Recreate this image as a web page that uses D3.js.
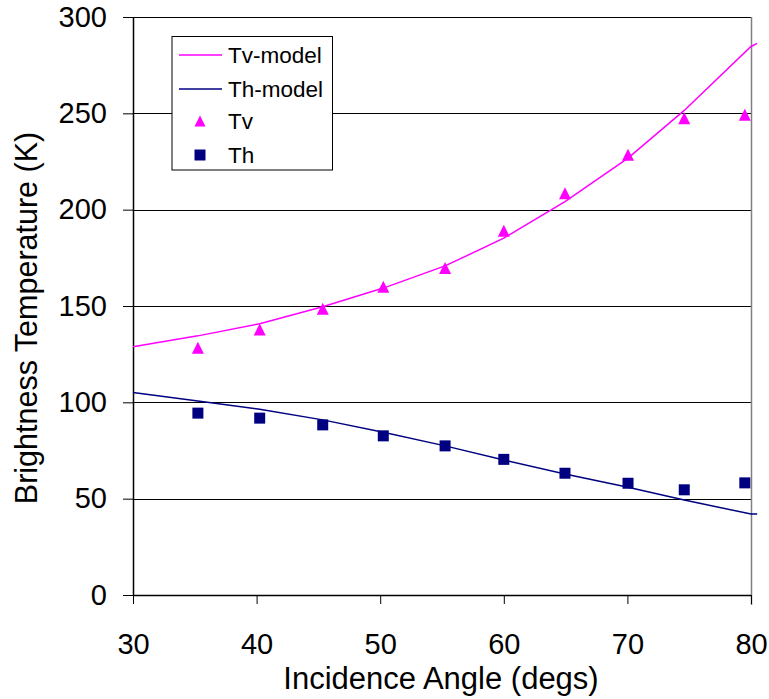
<!DOCTYPE html>
<html><head><meta charset="utf-8">
<script src="https://cdn.jsdelivr.net/npm/d3@7"></script>
<style>body{margin:0;background:#fff;} svg{display:block;font-family:Arial,"Liberation Sans",sans-serif;}</style>
</head><body>
<svg id="c" width="769" height="699"></svg>
<script>
// Data
const pointAngles = [35.25, 40.25, 45.35, 50.25, 55.25, 60.0, 64.95, 70.05, 74.6, 79.5];
const tvValues = [128.3, 137.8, 148.6, 160.0, 169.7, 189.0, 208.5, 228.5, 247.5, 249.3];
const thValues = [94.4, 91.8, 88.3, 82.6, 77.4, 70.4, 63.2, 58.0, 54.6, 58.2];
const modelAngles = [30, 35.25, 40.25, 45.35, 50.25, 55.25, 60.0, 64.95, 70.05, 74.6, 80, 80.5];
const tvModel = [128.8, 134.5, 140.8, 149.6, 159.3, 170.8, 185.2, 204.2, 226.8, 251.5, 284.7, 286.3];
const thModel = [105.1, 100.7, 96.4, 90.9, 84.5, 77.4, 70.1, 62.8, 55.9, 49.3, 42.0, 42.0];
const xTicks = [30, 40, 50, 60, 70, 80];
const yTicks = [0, 50, 100, 150, 200, 250, 300];
const legendLabels = ["Tv-model", "Th-model", "Tv", "Th"];
const magenta = "#FF00FF", navy = "#000080";

const svg = d3.select("#c");
const L = 133, R = 751, T = 17, B = 595;
const x = d3.scaleLinear().domain([30, 80]).range([L, R]);
const y = d3.scaleLinear().domain([0, 300]).range([B, T]);

// gridlines
svg.append("g").selectAll("line").data(yTicks.filter(d => d > 0)).join("line")
  .attr("x1", L).attr("x2", R).attr("y1", d => Math.round(y(d)) + 0.5).attr("y2", d => Math.round(y(d)) + 0.5)
  .attr("stroke", "#000").attr("stroke-width", 1);
// right border
svg.append("line").attr("x1", R + 0.5).attr("x2", R + 0.5).attr("y1", T).attr("y2", B + 10)
  .attr("stroke", "#808080").attr("stroke-width", 1.5);

// axes
const yAxis = d3.axisLeft(y).tickValues(yTicks).tickSize(10).tickPadding(16).tickFormat(d3.format("d"));
const gy = svg.append("g").attr("transform", `translate(${L},0)`).call(yAxis);
gy.select(".domain").attr("stroke", "#000").attr("stroke-width", 1.5).attr("d", `M0.5,${T}V${B}`);
gy.selectAll(".tick line").attr("stroke", "#000");
gy.selectAll(".tick text").attr("font-size", 29).attr("fill", "#000").attr("font-family", "Arial, 'Liberation Sans', sans-serif");

const xAxis = d3.axisBottom(x).tickValues(xTicks).tickSize(9).tickPadding(29).tickFormat(d3.format("d"));
const gx = svg.append("g").attr("transform", `translate(0,${B})`).call(xAxis);
gx.select(".domain").attr("stroke", "#000").attr("stroke-width", 1.5).attr("d", `M${L},0.5H${R}`);
gx.selectAll(".tick line").attr("stroke", "#000");
gx.selectAll(".tick text").attr("font-size", 29).attr("fill", "#000").attr("font-family", "Arial, 'Liberation Sans', sans-serif");

// titles
svg.append("text").attr("x", 441).attr("y", 689).attr("text-anchor", "middle")
  .attr("font-size", 31).text("Incidence Angle (degs)");
svg.append("text").attr("transform", "translate(37,318) rotate(-90)").attr("text-anchor", "middle")
  .attr("font-size", 30.5).text("Brightness Temperature (K)");

// model lines
const line = d3.line();
svg.append("path").attr("d", line(modelAngles.map((a, i) => [x(a), y(tvModel[i])])))
  .attr("fill", "none").attr("stroke", magenta).attr("stroke-width", 1.5);
svg.append("path").attr("d", line(modelAngles.map((a, i) => [x(a), y(thModel[i])])))
  .attr("fill", "none").attr("stroke", navy).attr("stroke-width", 1.5);

// markers
const tri = (cx, cy, s) => `M${cx},${cy - s / 2}L${cx + s / 2},${cy + s / 2}L${cx - s / 2},${cy + s / 2}Z`;
svg.append("g").selectAll("path").data(pointAngles).join("path")
  .attr("d", (a, i) => tri(x(a), y(tvValues[i]), 12)).attr("fill", magenta);
svg.append("g").selectAll("rect").data(pointAngles).join("rect")
  .attr("x", (a) => x(a) - 5.5).attr("y", (a, i) => y(thValues[i]) - 5.5)
  .attr("width", 11).attr("height", 11).attr("fill", navy);

// legend
const lg = svg.append("g");
lg.append("rect").attr("x", 172).attr("y", 36.5).attr("width", 160.5).attr("height", 133.5)
  .attr("fill", "#fff").attr("stroke", "#000").attr("stroke-width", 1);
const rows = [55, 89, 121, 155];
legendLabels.forEach((lab, i) => {
  const ry = rows[i];
  if (i === 0 || i === 1) {
    lg.append("line").attr("x1", 179).attr("x2", 222).attr("y1", ry).attr("y2", ry)
      .attr("stroke", i === 0 ? magenta : navy).attr("stroke-width", 1.5);
  } else if (i === 2) {
    lg.append("path").attr("d", tri(200, ry, 11)).attr("fill", magenta);
  } else {
    lg.append("rect").attr("x", 194.5).attr("y", ry - 5.5).attr("width", 11).attr("height", 11).attr("fill", navy);
  }
  lg.append("text").attr("x", 228).attr("y", ry + 8).attr("font-size", 22.5).text(lab);
});
</script>
</body></html>
